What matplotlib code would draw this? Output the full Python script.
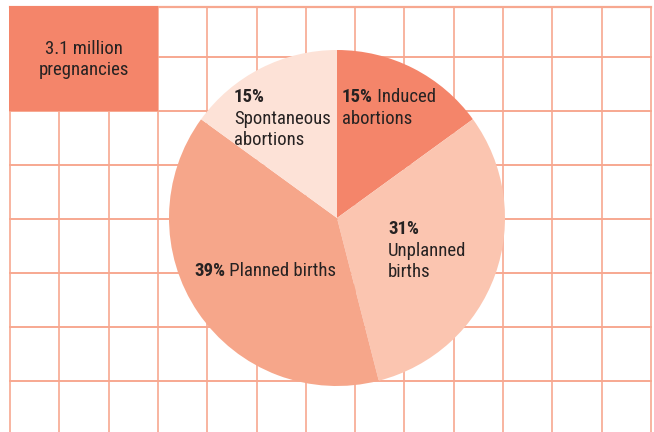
import matplotlib
matplotlib.use("Agg")
import matplotlib.pyplot as plt
from matplotlib.patches import Rectangle

# Pregnancy outcomes (share of 3.1 million pregnancies), clockwise from top
categories = ["Induced abortions", "Unplanned births", "Planned births", "Spontaneous abortions"]
shares = [15, 31, 39, 15]
pct_labels = ["15%", "31%", "39%", "15%"]
name_labels = ["Induced\nabortions", "Unplanned\nbirths", "Planned births", "Spontaneous\nabortions"]
total_label = ["3.1 million", "pregnancies"]

colors = ["#F4856A", "#FBC5B0", "#F6A68A", "#FDE2D7"]
grid_color = "#F7A890"
text_color = "#262222"
FONT = ["Roboto Condensed", "Liberation Sans Narrow", "Roboto", "DejaVu Sans"]

W, H = 654, 432
fig = plt.figure(figsize=(W / 100, H / 100), dpi=100)
ax = fig.add_axes([0, 0, 1, 1])


def Y(top):
    """Convert a top-based pixel row into the axes' y coordinate."""
    return H - top


# Graph-paper background
x0, dx = 10, 49.3
for i in range(14):
    ax.plot([x0 + i * dx] * 2, [Y(6.5), Y(432)], color=grid_color, lw=1.2, zorder=1)
ax.plot([x0, x0 + 13 * dx], [Y(6.5)] * 2, color=grid_color, lw=1.6, zorder=1)
for j in range(7):
    y = 381 - 54 * j
    ax.plot([x0, x0 + 13 * dx], [Y(y)] * 2, color=grid_color, lw=1.4, zorder=1)

# Total box in the top-left corner (covers the grid lines beneath it)
ax.add_patch(Rectangle((x0 - 1, Y(111)), 3 * dx + 1, 111 - 5.5, facecolor=colors[0],
                       edgecolor="none", zorder=3))
fs = 13.5
for k, line in enumerate(total_label):
    ax.text(x0 + 1.5 * dx, Y(54 + 21 * k), line, ha="center", va="baseline",
            fontsize=fs, color=text_color, family=FONT, zorder=4)

# Pie
ax.pie(shares, colors=colors, startangle=90, counterclock=False,
       center=(337, Y(218)), radius=168, frame=True,
       wedgeprops=dict(linewidth=0, zorder=2))
ax.set_xlim(0, W)
ax.set_ylim(0, H)
ax.set_aspect("equal")
ax.axis("off")

LS = 21.5


def label(x, top, pct, name, inline):
    t = ax.text(x, Y(top), pct, fontsize=fs, fontweight="bold", color=text_color,
                family=FONT, ha="left", va="baseline", zorder=4)
    lines = name.split("\n")
    if inline:
        ax.annotate(" " + lines[0], xy=(1, 0), xycoords=t, fontsize=fs,
                    color=text_color, family=FONT, ha="left", va="bottom", zorder=4)
        rest = lines[1:]
    else:
        rest = lines
    for k, line in enumerate(rest, start=1):
        ax.text(x, Y(top + LS * k), line, fontsize=fs, color=text_color,
                family=FONT, ha="left", va="baseline", zorder=4)


# baseline rows (top-based pixels)
label(342, 102, pct_labels[0], name_labels[0], True)
label(388, 234, pct_labels[1], name_labels[1], False)
label(194, 276, pct_labels[2], name_labels[2], True)
label(234, 102, pct_labels[3], name_labels[3], False)

fig.savefig("out.png", dpi=100)
